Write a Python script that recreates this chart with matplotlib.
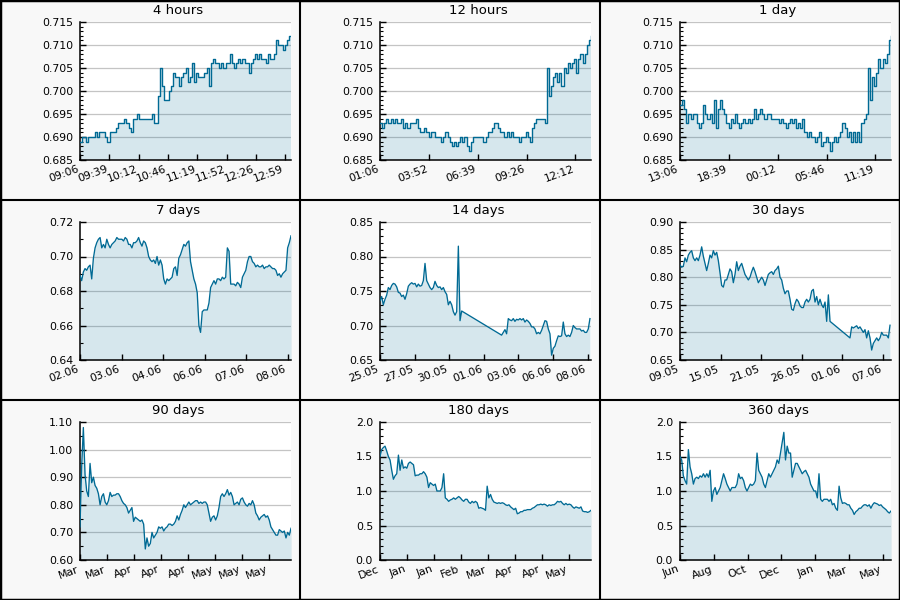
import matplotlib
matplotlib.use("Agg")
import matplotlib.pyplot as plt
import numpy as np
from matplotlib.lines import Line2D
from matplotlib.patches import Rectangle
from matplotlib.ticker import AutoMinorLocator, FormatStrFormatter

LINE = "#006a94"
GRID = "#c4c4c4"

# ---- 4 hours (minutes) ----
h4_span = 240
h4_tick_step = 240 / 7.2
h4_ticks = ["09:06", "09:39", "10:12", "10:46", "11:19", "11:52", "12:26", "12:59"]
h4_vals = [0.689, 0.690, 0.690, 0.689, 0.690, 0.690, 0.690, 0.691, 0.690, 0.691,
           0.691, 0.691, 0.690, 0.689, 0.691, 0.691, 0.691, 0.692, 0.693, 0.693,
           0.693, 0.694, 0.693, 0.692, 0.691, 0.694, 0.694, 0.695, 0.694, 0.694,
           0.694, 0.694, 0.694, 0.694, 0.695, 0.693, 0.693, 0.699, 0.705, 0.701,
           0.698, 0.698, 0.700, 0.701, 0.704, 0.703, 0.703, 0.701, 0.703, 0.704,
           0.705, 0.702, 0.703, 0.706, 0.702, 0.704, 0.703, 0.703, 0.703, 0.704,
           0.705, 0.701, 0.706, 0.707, 0.706, 0.706, 0.705, 0.706, 0.705, 0.706,
           0.706, 0.708, 0.706, 0.705, 0.706, 0.707, 0.706, 0.707, 0.706, 0.706,
           0.704, 0.706, 0.707, 0.708, 0.707, 0.708, 0.707, 0.707, 0.706, 0.708,
           0.707, 0.707, 0.708, 0.711, 0.710, 0.710, 0.709, 0.710, 0.711, 0.712,
           0.712]

# ---- 12 hours (minutes) ----
h12_span = 720
h12_tick_step = 720 / 4.32
h12_ticks = ["01:06", "03:52", "06:39", "09:26", "12:12"]
h12_vals = [0.693, 0.692, 0.693, 0.694, 0.693, 0.694, 0.693, 0.694, 0.693, 0.693,
            0.694, 0.692, 0.693, 0.692, 0.693, 0.693, 0.693, 0.694, 0.692, 0.691,
            0.691, 0.692, 0.691, 0.690, 0.691, 0.691, 0.690, 0.690, 0.690, 0.689,
            0.690, 0.691, 0.690, 0.689, 0.688, 0.689, 0.688, 0.689, 0.690, 0.689,
            0.690, 0.688, 0.687, 0.689, 0.690, 0.690, 0.690, 0.690, 0.690, 0.689,
            0.690, 0.691, 0.691, 0.692, 0.693, 0.693, 0.692, 0.691, 0.691, 0.690,
            0.691, 0.690, 0.691, 0.690, 0.690, 0.690, 0.689, 0.690, 0.690, 0.691,
            0.690, 0.689, 0.692, 0.693, 0.694, 0.694, 0.694, 0.694, 0.693, 0.705,
            0.699, 0.701, 0.703, 0.704, 0.702, 0.704, 0.701, 0.705, 0.704, 0.706,
            0.705, 0.706, 0.707, 0.704, 0.707, 0.708, 0.706, 0.708, 0.710, 0.711,
            0.712]

# ---- 1 day (minutes) ----
d1_span = 1440
d1_tick_step = 1440 / 4.32
d1_ticks = ["13:06", "18:39", "00:12", "05:46", "11:19"]
d1_vals = [0.697, 0.698, 0.696, 0.693, 0.695, 0.694, 0.695, 0.695, 0.693, 0.692,
           0.693, 0.697, 0.695, 0.694, 0.695, 0.693, 0.698, 0.692, 0.696, 0.698,
           0.696, 0.695, 0.693, 0.692, 0.694, 0.693, 0.695, 0.693, 0.692, 0.693,
           0.694, 0.693, 0.694, 0.693, 0.694, 0.696, 0.694, 0.695, 0.696, 0.695,
           0.694, 0.695, 0.695, 0.694, 0.694, 0.694, 0.694, 0.693, 0.694, 0.693,
           0.692, 0.693, 0.694, 0.693, 0.694, 0.692, 0.693, 0.692, 0.694, 0.691,
           0.690, 0.691, 0.690, 0.690, 0.689, 0.690, 0.691, 0.688, 0.689, 0.690,
           0.689, 0.687, 0.689, 0.690, 0.689, 0.690, 0.691, 0.693, 0.692, 0.690,
           0.691, 0.689, 0.691, 0.689, 0.691, 0.689, 0.693, 0.694, 0.695, 0.705,
           0.698, 0.703, 0.701, 0.704, 0.707, 0.705, 0.707, 0.706, 0.708, 0.711,
           0.712]

# ---- 7 days (days) ----
d7_span = 7
d7_tick_step = 7 * 0.1968
d7_ticks = ["02.06", "03.06", "04.06", "06.06", "07.06", "08.06"]
d7_vals = [0.689, 0.686, 0.691, 0.693, 0.692, 0.694, 0.695, 0.687, 0.699, 0.705,
           0.708, 0.710, 0.711, 0.705, 0.707, 0.705, 0.710, 0.707, 0.705, 0.707,
           0.708, 0.709, 0.711, 0.710, 0.710, 0.710, 0.709, 0.711, 0.710, 0.707,
           0.707, 0.705, 0.708, 0.708, 0.709, 0.711, 0.708, 0.706, 0.709, 0.708,
           0.705, 0.700, 0.698, 0.697, 0.698, 0.696, 0.700, 0.695, 0.698, 0.695,
           0.687, 0.684, 0.687, 0.686, 0.687, 0.688, 0.693, 0.694, 0.689, 0.699,
           0.701, 0.704, 0.707, 0.706, 0.708, 0.709, 0.697, 0.692, 0.687, 0.684,
           0.679, 0.660, 0.656, 0.668, 0.669, 0.669, 0.669, 0.673, 0.682, 0.684,
           0.686, 0.684, 0.687, 0.687, 0.686, 0.688, 0.687, 0.688, 0.705, 0.703,
           0.684, 0.684, 0.684, 0.683, 0.685, 0.684, 0.682, 0.688, 0.690, 0.692,
           0.697, 0.700, 0.700, 0.697, 0.696, 0.694, 0.695, 0.694, 0.694, 0.695,
           0.693, 0.694, 0.694, 0.695, 0.694, 0.693, 0.693, 0.692, 0.689, 0.690,
           0.688, 0.690, 0.691, 0.692, 0.705, 0.708, 0.712]

# ---- 14 days (days), with a data gap ----
d14_span = 14
d14_tick_step = 14 * 0.164
d14_ticks = ["25.05", "27.05", "30.05", "01.06", "03.06", "06.06", "08.06"]
d14_a_range = (0.0, 5.42)
d14_a_vals = [0.736, 0.742, 0.730, 0.738, 0.744, 0.755, 0.752, 0.758, 0.761, 0.760,
              0.756, 0.748, 0.747, 0.742, 0.744, 0.738, 0.746, 0.757, 0.760, 0.762,
              0.760, 0.761, 0.756, 0.760, 0.757, 0.758, 0.765, 0.790, 0.765, 0.760,
              0.755, 0.752, 0.755, 0.764, 0.758, 0.755, 0.756, 0.752, 0.755, 0.749,
              0.745, 0.730, 0.735, 0.730, 0.720, 0.715, 0.720, 0.815, 0.707, 0.721]
d14_b_range = (8.07, 13.93)
d14_b_vals = [0.686, 0.690, 0.694, 0.688, 0.710, 0.708, 0.707, 0.710, 0.706, 0.709,
              0.708, 0.710, 0.708, 0.710, 0.705, 0.708, 0.706, 0.703, 0.698, 0.698,
              0.695, 0.688, 0.690, 0.688, 0.693, 0.700, 0.707, 0.706, 0.695, 0.688,
              0.657, 0.667, 0.670, 0.678, 0.685, 0.684, 0.685, 0.705, 0.688, 0.684,
              0.686, 0.684, 0.690, 0.700, 0.697, 0.695, 0.695, 0.695, 0.692, 0.693,
              0.690, 0.690, 0.695, 0.710]

# ---- 30 days (days), with a data gap ----
d30_span = 30
d30_tick_step = 30 * 0.1924
d30_ticks = ["09.05", "15.05", "21.05", "26.05", "01.06", "07.06"]
d30_a_range = (0.0, 21.33)
d30_a_vals = [0.822, 0.818, 0.820, 0.835, 0.828, 0.840, 0.845, 0.848, 0.835, 0.830,
              0.835, 0.830, 0.840, 0.855, 0.838, 0.825, 0.812, 0.825, 0.840, 0.835,
              0.848, 0.840, 0.845, 0.830, 0.808, 0.785, 0.782, 0.795, 0.795, 0.805,
              0.815, 0.810, 0.790, 0.805, 0.828, 0.812, 0.820, 0.825, 0.815, 0.805,
              0.800, 0.795, 0.800, 0.810, 0.818, 0.810, 0.800, 0.790, 0.795, 0.800,
              0.795, 0.785, 0.795, 0.805, 0.808, 0.810, 0.805, 0.812, 0.815, 0.820,
              0.800, 0.795, 0.780, 0.770, 0.775, 0.775, 0.760, 0.742, 0.740, 0.752,
              0.760, 0.756, 0.748, 0.745, 0.745, 0.755, 0.760, 0.755, 0.760, 0.775,
              0.778, 0.755, 0.765, 0.750, 0.760, 0.750, 0.745, 0.755, 0.720, 0.768,
              0.720]
d30_b_range = (24.17, 29.86)
d30_b_vals = [0.690, 0.710, 0.708, 0.710, 0.712, 0.707, 0.710, 0.705, 0.700, 0.705,
              0.690, 0.703, 0.690, 0.668, 0.680, 0.685, 0.690, 0.685, 0.690, 0.700,
              0.695, 0.695, 0.695, 0.690, 0.713]

# ---- 90 days (days) ----
d90_span = 90
d90_tick_step = 90 * 0.128
d90_ticks = ["Mar", "Mar", "Apr", "Apr", "Apr", "May", "May", "May"]
d90_vals = [0.72, 0.94, 1.08, 0.91, 0.85, 0.83, 0.95, 0.88, 0.90, 0.87,
            0.86, 0.84, 0.80, 0.83, 0.84, 0.81, 0.80, 0.815, 0.845, 0.83,
            0.835, 0.835, 0.84, 0.84, 0.83, 0.815, 0.805, 0.80, 0.79, 0.77,
            0.78, 0.79, 0.74, 0.755, 0.75, 0.745, 0.74, 0.745, 0.73, 0.64,
            0.68, 0.65, 0.66, 0.70, 0.68, 0.69, 0.70, 0.72, 0.715, 0.72,
            0.705, 0.715, 0.72, 0.73, 0.73, 0.725, 0.73, 0.74, 0.76, 0.745,
            0.765, 0.78, 0.80, 0.79, 0.80, 0.81, 0.80, 0.805, 0.81, 0.815,
            0.815, 0.805, 0.81, 0.805, 0.81, 0.81, 0.80, 0.77, 0.74, 0.755,
            0.76, 0.745, 0.76, 0.79, 0.83, 0.84, 0.83, 0.84, 0.855, 0.835,
            0.845, 0.83, 0.80, 0.805, 0.81, 0.80, 0.82, 0.825, 0.81, 0.80,
            0.795, 0.805, 0.80, 0.815, 0.80, 0.77, 0.76, 0.745, 0.755, 0.76,
            0.765, 0.755, 0.76, 0.745, 0.72, 0.71, 0.70, 0.69, 0.69, 0.71,
            0.705, 0.70, 0.705, 0.68, 0.70, 0.69, 0.715]

# ---- 180 days (days) ----
d180_span = 180
d180_tick_step = 180 * 0.128
d180_ticks = ["Dec", "Jan", "Jan", "Feb", "Mar", "Apr", "Apr", "May"]
d180_vals = [1.50, 1.60, 1.63, 1.65, 1.58, 1.50, 1.45, 1.30, 1.17, 1.22,
             1.25, 1.52, 1.30, 1.45, 1.33, 1.35, 1.33, 1.40, 1.42, 1.40,
             1.38, 1.22, 1.23, 1.23, 1.25, 1.25, 1.28, 1.25, 1.20, 1.05,
             1.12, 1.10, 1.08, 1.10, 1.00, 1.00, 1.00, 1.05, 1.25, 0.90,
             0.88, 0.85, 0.87, 0.88, 0.90, 0.88, 0.90, 0.92, 0.90, 0.87,
             0.85, 0.88, 0.88, 0.84, 0.82, 0.85, 0.83, 0.85, 0.83, 0.75,
             0.76, 0.75, 0.74, 0.72, 1.07, 0.90, 0.95, 0.88, 0.84, 0.83,
             0.82, 0.83, 0.82, 0.83, 0.82, 0.80, 0.79, 0.80, 0.77, 0.75,
             0.73, 0.75, 0.67, 0.68, 0.70, 0.70, 0.72, 0.72, 0.73, 0.73,
             0.73, 0.75, 0.76, 0.78, 0.80, 0.80, 0.81, 0.80, 0.81, 0.80,
             0.78, 0.80, 0.79, 0.80, 0.80, 0.82, 0.85, 0.84, 0.85, 0.82,
             0.80, 0.82, 0.80, 0.81, 0.80, 0.77, 0.75, 0.77, 0.76, 0.75,
             0.77, 0.71, 0.70, 0.70, 0.69, 0.70, 0.72]

# ---- 360 days (days) ----
d360_span = 360
d360_tick_step = 360 * 0.1603
d360_ticks = ["Jun", "Aug", "Oct", "Dec", "Jan", "Mar", "May"]
d360_vals = [1.50, 1.45, 1.22, 1.15, 1.10, 1.60, 1.35, 1.25, 1.10, 1.18,
             1.20, 1.18, 1.22, 1.20, 1.25, 1.20, 1.25, 1.20, 1.30, 0.85,
             1.00, 1.05, 0.95, 1.00, 1.05, 1.15, 1.25, 1.18, 1.10, 1.05,
             1.00, 1.05, 1.05, 1.05, 1.10, 1.25, 1.18, 1.20, 1.15, 1.05,
             1.00, 1.05, 1.10, 1.08, 1.10, 1.15, 1.55, 1.30, 1.25, 1.20,
             1.10, 1.05, 1.15, 1.25, 1.20, 1.25, 1.30, 1.35, 1.45, 1.40,
             1.55, 1.70, 1.85, 1.45, 1.65, 1.55, 1.55, 1.20, 1.30, 1.40,
             1.40, 1.35, 1.30, 1.25, 1.28, 1.30, 1.25, 1.20, 1.10, 1.05,
             1.00, 1.00, 0.90, 1.25, 0.88, 0.85, 0.88, 0.88, 0.88, 0.85,
             0.88, 0.80, 0.82, 0.75, 0.72, 1.07, 0.90, 0.82, 0.83, 0.82,
             0.80, 0.80, 0.75, 0.72, 0.66, 0.70, 0.72, 0.75, 0.75, 0.78,
             0.80, 0.80, 0.78, 0.80, 0.75, 0.80, 0.83, 0.82, 0.81, 0.79,
             0.80, 0.77, 0.75, 0.73, 0.70, 0.68, 0.71]


def seg_x(rng, vals):
    return np.linspace(rng[0], rng[1], len(vals))


panels = [
    ("4 hours", np.linspace(0, h4_span, len(h4_vals)), h4_vals, h4_span, h4_tick_step, h4_ticks,
     (0.685, 0.715), 0.005, 5, "%.3f", True),
    ("12 hours", np.linspace(0, h12_span, len(h12_vals)), h12_vals, h12_span, h12_tick_step, h12_ticks,
     (0.685, 0.715), 0.005, 5, "%.3f", True),
    ("1 day", np.linspace(0, d1_span, len(d1_vals)), d1_vals, d1_span, d1_tick_step, d1_ticks,
     (0.685, 0.715), 0.005, 5, "%.3f", True),
    ("7 days", np.linspace(0, d7_span, len(d7_vals)), d7_vals, d7_span, d7_tick_step, d7_ticks,
     (0.64, 0.72), 0.02, 2, "%.2f", False),
    ("14 days", np.concatenate([seg_x(d14_a_range, d14_a_vals), seg_x(d14_b_range, d14_b_vals)]),
     d14_a_vals + d14_b_vals, d14_span, d14_tick_step, d14_ticks,
     (0.65, 0.85), 0.05, 5, "%.2f", False),
    ("30 days", np.concatenate([seg_x(d30_a_range, d30_a_vals), seg_x(d30_b_range, d30_b_vals)]),
     d30_a_vals + d30_b_vals, d30_span, d30_tick_step, d30_ticks,
     (0.65, 0.90), 0.05, 5, "%.2f", False),
    ("90 days", np.linspace(0, d90_span, len(d90_vals)), d90_vals, d90_span, d90_tick_step, d90_ticks,
     (0.60, 1.10), 0.10, 2, "%.2f", False),
    ("180 days", np.linspace(0, d180_span, len(d180_vals)), d180_vals, d180_span, d180_tick_step, d180_ticks,
     (0.0, 2.0), 0.5, 5, "%.1f", False),
    ("360 days", np.linspace(0, d360_span, len(d360_vals)), d360_vals, d360_span, d360_tick_step, d360_ticks,
     (0.0, 2.0), 0.5, 5, "%.1f", False),
]

fig = plt.figure(figsize=(9, 6), dpi=100, facecolor="#f8f8f8")

for i, (title, x, y, span, step, labels, ylim, major, nminor, fmt, steps) in enumerate(panels):
    r, c = divmod(i, 3)
    left = (300 * c + 80) / 900
    bottom = 1 - (200 * r + 160) / 600
    ax = fig.add_axes([left, bottom, 211 / 900, 138 / 600])
    ax.set_facecolor("white")

    y = np.asarray(y)
    ax.set_ylim(*ylim)
    ax.set_yticks(np.arange(ylim[0], ylim[1] + major / 2, major))
    # grid under a translucent fill, so it shows through tinted
    for yy in ax.get_yticks()[1:]:
        ax.axhline(yy, color=GRID, lw=0.9, zorder=0.5)

    if steps:
        ax.fill_between(x, ylim[0], y, step="post", color=LINE, alpha=0.16, lw=0, zorder=1)
        ax.plot(x, y, drawstyle="steps-post", color=LINE, lw=1.0, zorder=3)
    else:
        ax.fill_between(x, ylim[0], y, color=LINE, alpha=0.16, lw=0, zorder=1)
        ax.plot(x, y, color=LINE, lw=0.95, zorder=3)

    ax.set_xlim(0, span)
    ax.set_xticks(np.arange(len(labels)) * step)
    ax.set_xticklabels(labels, rotation=20, ha="right", fontsize=7.8)
    ax.yaxis.set_major_formatter(FormatStrFormatter(fmt))
    ax.yaxis.set_minor_locator(AutoMinorLocator(nminor))
    ax.tick_params(axis="y", which="major", direction="in", length=4.5, width=1, labelsize=7.8, pad=5)
    ax.tick_params(axis="y", which="minor", direction="in", length=2.5, width=0.8)
    ax.tick_params(axis="x", which="major", direction="in", length=4.5, width=1, pad=3)

    ax.spines["top"].set_visible(False)
    ax.spines["right"].set_visible(False)
    ax.spines["left"].set_linewidth(1.1)
    ax.spines["bottom"].set_linewidth(1.1)
    ax.set_title(title, x=0.465, pad=5.5, fontsize=9.5)

# panel borders
for f in (1 / 3, 2 / 3):
    fig.add_artist(Line2D([f, f], [0, 1], color="black", lw=1.5))
    fig.add_artist(Line2D([0, 1], [f, f], color="black", lw=1.5))
fig.add_artist(Rectangle((0, 0), 1, 1, fill=False, edgecolor="black", lw=2.5))

fig.savefig("out.png", dpi=100, facecolor=fig.get_facecolor())
